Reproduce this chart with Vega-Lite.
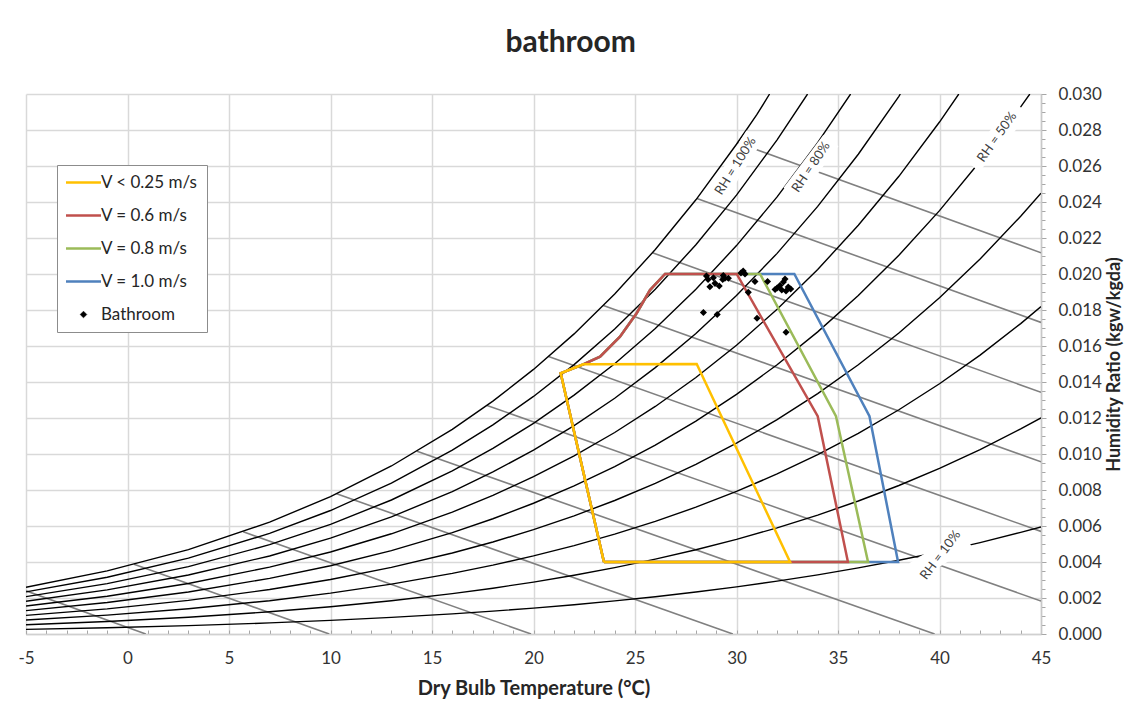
{
  "$schema": "https://vega.github.io/schema/vega-lite/v6.json",
  "width": 1015,
  "height": 540,
  "autosize": {"type": "none"},
  "padding": {"left": 26, "top": 94, "right": 92, "bottom": 70},
  "background": "white",
  "config": {"font": "Lato", "view": {"stroke": null}},
  "title": {"text": "bathroom", "fontSize": 30, "fontWeight": "bold", "color": "#262626", "anchor": "middle", "frame": "bounds", "baseline": "alphabetic", "offset": 3},
  "datasets": {
    "rh": [
      {"rh": 100, "T": -5, "W": 0.002598}, {"rh": 100, "T": -1, "W": 0.003505}, {"rh": 100, "T": 3, "W": 0.004689}, {"rh": 100, "T": 7, "W": 0.006213}, {"rh": 100, "T": 10, "W": 0.007632}, {"rh": 100, "T": 13, "W": 0.009334}, {"rh": 100, "T": 16, "W": 0.011369}, {"rh": 100, "T": 18, "W": 0.012938}, {"rh": 100, "T": 20, "W": 0.014699}, {"rh": 100, "T": 22, "W": 0.016673}, {"rh": 100, "T": 24, "W": 0.018884}, {"rh": 100, "T": 26, "W": 0.021358}, {"rh": 100, "T": 28, "W": 0.024122}, {"rh": 100, "T": 30, "W": 0.02721}, {"rh": 100, "T": 31, "W": 0.028848}, {"rh": 100, "T": 31.63, "W": 0.03},
      {"rh": 90, "T": -5, "W": 0.002337}, {"rh": 90, "T": -1, "W": 0.003153}, {"rh": 90, "T": 3, "W": 0.004217}, {"rh": 90, "T": 7, "W": 0.005586}, {"rh": 90, "T": 10, "W": 0.00686}, {"rh": 90, "T": 13, "W": 0.008388}, {"rh": 90, "T": 16, "W": 0.010213}, {"rh": 90, "T": 18, "W": 0.01162}, {"rh": 90, "T": 20, "W": 0.013198}, {"rh": 90, "T": 22, "W": 0.014966}, {"rh": 90, "T": 24, "W": 0.016944}, {"rh": 90, "T": 26, "W": 0.019156}, {"rh": 90, "T": 28, "W": 0.021626}, {"rh": 90, "T": 30, "W": 0.024382}, {"rh": 90, "T": 32, "W": 0.027454}, {"rh": 90, "T": 33.5, "W": 0.03},
      {"rh": 80, "T": -5, "W": 0.002077}, {"rh": 80, "T": -1, "W": 0.002801}, {"rh": 80, "T": 3, "W": 0.003745}, {"rh": 80, "T": 7, "W": 0.004961}, {"rh": 80, "T": 10, "W": 0.006091}, {"rh": 80, "T": 13, "W": 0.007445}, {"rh": 80, "T": 16, "W": 0.009062}, {"rh": 80, "T": 18, "W": 0.010308}, {"rh": 80, "T": 20, "W": 0.011704}, {"rh": 80, "T": 22, "W": 0.013268}, {"rh": 80, "T": 24, "W": 0.015016}, {"rh": 80, "T": 26, "W": 0.01697}, {"rh": 80, "T": 28, "W": 0.019149}, {"rh": 80, "T": 30, "W": 0.021579}, {"rh": 80, "T": 32, "W": 0.024284}, {"rh": 80, "T": 34, "W": 0.027297}, {"rh": 80, "T": 35.62, "W": 0.03},
      {"rh": 70, "T": -5, "W": 0.001817}, {"rh": 70, "T": -1, "W": 0.002449}, {"rh": 70, "T": 3, "W": 0.003275}, {"rh": 70, "T": 7, "W": 0.004336}, {"rh": 70, "T": 10, "W": 0.005323}, {"rh": 70, "T": 13, "W": 0.006505}, {"rh": 70, "T": 16, "W": 0.007915}, {"rh": 70, "T": 18, "W": 0.009001}, {"rh": 70, "T": 20, "W": 0.010217}, {"rh": 70, "T": 22, "W": 0.011578}, {"rh": 70, "T": 24, "W": 0.013099}, {"rh": 70, "T": 26, "W": 0.014798}, {"rh": 70, "T": 28, "W": 0.016691}, {"rh": 70, "T": 30, "W": 0.0188}, {"rh": 70, "T": 32, "W": 0.021146}, {"rh": 70, "T": 34, "W": 0.023754}, {"rh": 70, "T": 36, "W": 0.026652}, {"rh": 70, "T": 38, "W": 0.029869}, {"rh": 70, "T": 38.07, "W": 0.03},
      {"rh": 60, "T": -5, "W": 0.001556}, {"rh": 60, "T": -1, "W": 0.002098}, {"rh": 60, "T": 3, "W": 0.002805}, {"rh": 60, "T": 7, "W": 0.003713}, {"rh": 60, "T": 10, "W": 0.004557}, {"rh": 60, "T": 13, "W": 0.005567}, {"rh": 60, "T": 16, "W": 0.006772}, {"rh": 60, "T": 18, "W": 0.007699}, {"rh": 60, "T": 20, "W": 0.008737}, {"rh": 60, "T": 22, "W": 0.009898}, {"rh": 60, "T": 24, "W": 0.011194}, {"rh": 60, "T": 26, "W": 0.012641}, {"rh": 60, "T": 28, "W": 0.014252}, {"rh": 60, "T": 30, "W": 0.016045}, {"rh": 60, "T": 32, "W": 0.018037}, {"rh": 60, "T": 34, "W": 0.02025}, {"rh": 60, "T": 36, "W": 0.022706}, {"rh": 60, "T": 38, "W": 0.025427}, {"rh": 60, "T": 40, "W": 0.028442}, {"rh": 60, "T": 40.95, "W": 0.03},
      {"rh": 50, "T": -5, "W": 0.001296}, {"rh": 50, "T": -1, "W": 0.001748}, {"rh": 50, "T": 3, "W": 0.002336}, {"rh": 50, "T": 7, "W": 0.003091}, {"rh": 50, "T": 10, "W": 0.003793}, {"rh": 50, "T": 13, "W": 0.004632}, {"rh": 50, "T": 16, "W": 0.005633}, {"rh": 50, "T": 18, "W": 0.006402}, {"rh": 50, "T": 20, "W": 0.007264}, {"rh": 50, "T": 22, "W": 0.008226}, {"rh": 50, "T": 24, "W": 0.009301}, {"rh": 50, "T": 26, "W": 0.010498}, {"rh": 50, "T": 28, "W": 0.011831}, {"rh": 50, "T": 30, "W": 0.013314}, {"rh": 50, "T": 32, "W": 0.014959}, {"rh": 50, "T": 34, "W": 0.016784}, {"rh": 50, "T": 36, "W": 0.018807}, {"rh": 50, "T": 38, "W": 0.021046}, {"rh": 50, "T": 40, "W": 0.023522}, {"rh": 50, "T": 42, "W": 0.02626}, {"rh": 50, "T": 44, "W": 0.029284}, {"rh": 50, "T": 44.45, "W": 0.03},
      {"rh": 40, "T": -5, "W": 0.001037}, {"rh": 40, "T": -1, "W": 0.001397}, {"rh": 40, "T": 3, "W": 0.001867}, {"rh": 40, "T": 7, "W": 0.00247}, {"rh": 40, "T": 10, "W": 0.003031}, {"rh": 40, "T": 13, "W": 0.0037}, {"rh": 40, "T": 16, "W": 0.004498}, {"rh": 40, "T": 18, "W": 0.005111}, {"rh": 40, "T": 20, "W": 0.005797}, {"rh": 40, "T": 22, "W": 0.006564}, {"rh": 40, "T": 24, "W": 0.007418}, {"rh": 40, "T": 26, "W": 0.008371}, {"rh": 40, "T": 28, "W": 0.009429}, {"rh": 40, "T": 30, "W": 0.010605}, {"rh": 40, "T": 32, "W": 0.01191}, {"rh": 40, "T": 34, "W": 0.013355}, {"rh": 40, "T": 36, "W": 0.014955}, {"rh": 40, "T": 38, "W": 0.016724}, {"rh": 40, "T": 40, "W": 0.018677}, {"rh": 40, "T": 42, "W": 0.020832}, {"rh": 40, "T": 44, "W": 0.023209}, {"rh": 40, "T": 45, "W": 0.024486},
      {"rh": 30, "T": -5, "W": 0.000777}, {"rh": 30, "T": -1, "W": 0.001047}, {"rh": 30, "T": 3, "W": 0.001399}, {"rh": 30, "T": 7, "W": 0.001851}, {"rh": 30, "T": 10, "W": 0.00227}, {"rh": 30, "T": 13, "W": 0.002771}, {"rh": 30, "T": 16, "W": 0.003368}, {"rh": 30, "T": 18, "W": 0.003826}, {"rh": 30, "T": 20, "W": 0.004338}, {"rh": 30, "T": 22, "W": 0.00491}, {"rh": 30, "T": 24, "W": 0.005547}, {"rh": 30, "T": 26, "W": 0.006257}, {"rh": 30, "T": 28, "W": 0.007045}, {"rh": 30, "T": 30, "W": 0.00792}, {"rh": 30, "T": 32, "W": 0.00889}, {"rh": 30, "T": 34, "W": 0.009963}, {"rh": 30, "T": 36, "W": 0.011149}, {"rh": 30, "T": 38, "W": 0.012459}, {"rh": 30, "T": 40, "W": 0.013903}, {"rh": 30, "T": 42, "W": 0.015494}, {"rh": 30, "T": 44, "W": 0.017245}, {"rh": 30, "T": 45, "W": 0.018186},
      {"rh": 20, "T": -5, "W": 0.000518}, {"rh": 20, "T": -1, "W": 0.000698}, {"rh": 20, "T": 3, "W": 0.000932}, {"rh": 20, "T": 7, "W": 0.001233}, {"rh": 20, "T": 10, "W": 0.001512}, {"rh": 20, "T": 13, "W": 0.001845}, {"rh": 20, "T": 16, "W": 0.002241}, {"rh": 20, "T": 18, "W": 0.002545}, {"rh": 20, "T": 20, "W": 0.002885}, {"rh": 20, "T": 22, "W": 0.003265}, {"rh": 20, "T": 24, "W": 0.003687}, {"rh": 20, "T": 26, "W": 0.004157}, {"rh": 20, "T": 28, "W": 0.004679}, {"rh": 20, "T": 30, "W": 0.005258}, {"rh": 20, "T": 32, "W": 0.005898}, {"rh": 20, "T": 34, "W": 0.006607}, {"rh": 20, "T": 36, "W": 0.007389}, {"rh": 20, "T": 38, "W": 0.008251}, {"rh": 20, "T": 40, "W": 0.0092}, {"rh": 20, "T": 42, "W": 0.010244}, {"rh": 20, "T": 44, "W": 0.011392}, {"rh": 20, "T": 45, "W": 0.012007},
      {"rh": 10, "T": -5, "W": 0.000259}, {"rh": 10, "T": -1, "W": 0.000349}, {"rh": 10, "T": 3, "W": 0.000466}, {"rh": 10, "T": 7, "W": 0.000616}, {"rh": 10, "T": 10, "W": 0.000755}, {"rh": 10, "T": 13, "W": 0.000921}, {"rh": 10, "T": 16, "W": 0.001119}, {"rh": 10, "T": 18, "W": 0.00127}, {"rh": 10, "T": 20, "W": 0.001439}, {"rh": 10, "T": 22, "W": 0.001628}, {"rh": 10, "T": 24, "W": 0.001838}, {"rh": 10, "T": 26, "W": 0.002072}, {"rh": 10, "T": 28, "W": 0.002331}, {"rh": 10, "T": 30, "W": 0.002618}, {"rh": 10, "T": 32, "W": 0.002935}, {"rh": 10, "T": 34, "W": 0.003286}, {"rh": 10, "T": 36, "W": 0.003673}, {"rh": 10, "T": 38, "W": 0.004098}, {"rh": 10, "T": 40, "W": 0.004566}, {"rh": 10, "T": 42, "W": 0.00508}, {"rh": 10, "T": 44, "W": 0.005644}, {"rh": 10, "T": 45, "W": 0.005946}
    ],
    "enthalpy": [
      {"h": 1, "T": -5, "W": 0.0024}, {"h": 1, "T": 0.9, "W": 0},
      {"h": 10, "T": 0.32, "W": 0.00387}, {"h": 10, "T": 9.94, "W": 0},
      {"h": 20, "T": 5.7, "W": 0.00568}, {"h": 20, "T": 19.88, "W": 0},
      {"h": 30, "T": 10.3, "W": 0.00779}, {"h": 30, "T": 29.82, "W": 0},
      {"h": 40, "T": 14.26, "W": 0.01015}, {"h": 40, "T": 39.76, "W": 0},
      {"h": 50, "T": 17.71, "W": 0.0127}, {"h": 50, "T": 45, "W": 0.00183},
      {"h": 60, "T": 20.74, "W": 0.01542}, {"h": 60, "T": 45, "W": 0.0057},
      {"h": 70, "T": 23.44, "W": 0.01825}, {"h": 70, "T": 45, "W": 0.00957},
      {"h": 80, "T": 25.86, "W": 0.02118}, {"h": 80, "T": 45, "W": 0.01343},
      {"h": 90, "T": 28.05, "W": 0.0242}, {"h": 90, "T": 45, "W": 0.01731},
      {"h": 100, "T": 30.05, "W": 0.02729}, {"h": 100, "T": 45, "W": 0.02118}
    ],
    "labels": [
      {"label": "RH = 100%", "T": 29.95, "W": 0.0260, "T1": 29.015, "W1": 0.0243, "T2": 30.887, "W2": 0.0277},
      {"label": "RH = 80%", "T": 33.67, "W": 0.02594, "T1": 32.69, "W1": 0.02448, "T2": 34.65, "W2": 0.02741},
      {"label": "RH = 50%", "T": 42.83, "W": 0.02761, "T1": 41.596, "W1": 0.02603, "T2": 44.069, "W2": 0.02919},
      {"label": "RH = 10%", "T": 40.05, "W": 0.00439, "T1": 38.754, "W1": 0.003478, "T2": 41.345, "W2": 0.0053}
    ],
    "zones": [
      {"series": "V = 1.0 m/s", "i": 0, "T": 23.47, "W": 0.004}, {"series": "V = 1.0 m/s", "i": 1, "T": 37.96, "W": 0.004}, {"series": "V = 1.0 m/s", "i": 2, "T": 36.55, "W": 0.0121}, {"series": "V = 1.0 m/s", "i": 3, "T": 32.85, "W": 0.02}, {"series": "V = 1.0 m/s", "i": 4, "T": 26.48, "W": 0.02}, {"series": "V = 1.0 m/s", "i": 5, "T": 25.74, "W": 0.01911}, {"series": "V = 1.0 m/s", "i": 6, "T": 25.08, "W": 0.01782}, {"series": "V = 1.0 m/s", "i": 7, "T": 24.26, "W": 0.01652}, {"series": "V = 1.0 m/s", "i": 8, "T": 23.28, "W": 0.01541}, {"series": "V = 1.0 m/s", "i": 9, "T": 22.45, "W": 0.01498}, {"series": "V = 1.0 m/s", "i": 10, "T": 21.34, "W": 0.01448}, {"series": "V = 1.0 m/s", "i": 11, "T": 23.47, "W": 0.004},
      {"series": "V = 0.8 m/s", "i": 0, "T": 23.47, "W": 0.004}, {"series": "V = 0.8 m/s", "i": 1, "T": 36.48, "W": 0.004}, {"series": "V = 0.8 m/s", "i": 2, "T": 34.9, "W": 0.0121}, {"series": "V = 0.8 m/s", "i": 3, "T": 31.16, "W": 0.02}, {"series": "V = 0.8 m/s", "i": 4, "T": 26.48, "W": 0.02}, {"series": "V = 0.8 m/s", "i": 5, "T": 25.74, "W": 0.01911}, {"series": "V = 0.8 m/s", "i": 6, "T": 25.08, "W": 0.01782}, {"series": "V = 0.8 m/s", "i": 7, "T": 24.26, "W": 0.01652}, {"series": "V = 0.8 m/s", "i": 8, "T": 23.28, "W": 0.01541}, {"series": "V = 0.8 m/s", "i": 9, "T": 22.45, "W": 0.01498}, {"series": "V = 0.8 m/s", "i": 10, "T": 21.34, "W": 0.01448}, {"series": "V = 0.8 m/s", "i": 11, "T": 23.47, "W": 0.004},
      {"series": "V = 0.6 m/s", "i": 0, "T": 23.47, "W": 0.004}, {"series": "V = 0.6 m/s", "i": 1, "T": 35.49, "W": 0.004}, {"series": "V = 0.6 m/s", "i": 2, "T": 34.0, "W": 0.0121}, {"series": "V = 0.6 m/s", "i": 3, "T": 30.01, "W": 0.02}, {"series": "V = 0.6 m/s", "i": 4, "T": 26.48, "W": 0.02}, {"series": "V = 0.6 m/s", "i": 5, "T": 25.74, "W": 0.01911}, {"series": "V = 0.6 m/s", "i": 6, "T": 25.08, "W": 0.01782}, {"series": "V = 0.6 m/s", "i": 7, "T": 24.26, "W": 0.01652}, {"series": "V = 0.6 m/s", "i": 8, "T": 23.28, "W": 0.01541}, {"series": "V = 0.6 m/s", "i": 9, "T": 22.45, "W": 0.01498}, {"series": "V = 0.6 m/s", "i": 10, "T": 21.34, "W": 0.01448}, {"series": "V = 0.6 m/s", "i": 11, "T": 23.47, "W": 0.004},
      {"series": "V < 0.25 m/s", "i": 0, "T": 23.47, "W": 0.004}, {"series": "V < 0.25 m/s", "i": 1, "T": 32.64, "W": 0.004}, {"series": "V < 0.25 m/s", "i": 2, "T": 28.04, "W": 0.015}, {"series": "V < 0.25 m/s", "i": 3, "T": 22.45, "W": 0.01498}, {"series": "V < 0.25 m/s", "i": 4, "T": 21.34, "W": 0.01448}, {"series": "V < 0.25 m/s", "i": 5, "T": 23.47, "W": 0.004}
    ],
    "points": [
      {"series": "Bathroom", "T": 28.52, "W": 0.01989}, {"series": "Bathroom", "T": 28.6, "W": 0.01969}, {"series": "Bathroom", "T": 28.86, "W": 0.01979}, {"series": "Bathroom", "T": 28.69, "W": 0.01929}, {"series": "Bathroom", "T": 28.94, "W": 0.01948}, {"series": "Bathroom", "T": 29.15, "W": 0.01933}, {"series": "Bathroom", "T": 29.35, "W": 0.01991}, {"series": "Bathroom", "T": 29.43, "W": 0.01976}, {"series": "Bathroom", "T": 29.6, "W": 0.01976}, {"series": "Bathroom", "T": 29.32, "W": 0.01969},
      {"series": "Bathroom", "T": 30.33, "W": 0.02017}, {"series": "Bathroom", "T": 30.42, "W": 0.02}, {"series": "Bathroom", "T": 30.22, "W": 0.02006}, {"series": "Bathroom", "T": 30.91, "W": 0.01958}, {"series": "Bathroom", "T": 30.58, "W": 0.01898}, {"series": "Bathroom", "T": 31.53, "W": 0.01958}, {"series": "Bathroom", "T": 31.9, "W": 0.01914}, {"series": "Bathroom", "T": 32.14, "W": 0.01936}, {"series": "Bathroom", "T": 32.31, "W": 0.01956}, {"series": "Bathroom", "T": 32.39, "W": 0.01972},
      {"series": "Bathroom", "T": 32.55, "W": 0.01928}, {"series": "Bathroom", "T": 32.44, "W": 0.01906}, {"series": "Bathroom", "T": 32.67, "W": 0.01917}, {"series": "Bathroom", "T": 32.23, "W": 0.01911}, {"series": "Bathroom", "T": 32.0, "W": 0.01922}, {"series": "Bathroom", "T": 28.37, "W": 0.01786}, {"series": "Bathroom", "T": 29.05, "W": 0.01775}, {"series": "Bathroom", "T": 31.01, "W": 0.01754}, {"series": "Bathroom", "T": 32.44, "W": 0.01676}
    ]
  },
  "resolve": {"axis": {"x": "independent", "y": "independent"}},
  "layer": [
    {
      "data": {"name": "enthalpy"},
      "mark": {"type": "line", "color": "#808080", "strokeWidth": 1.6, "clip": true},
      "encoding": {
        "x": {"field": "T", "type": "quantitative", "scale": {"domain": [-5, 45], "nice": false, "zero": false},
          "axis": {"orient": "bottom", "values": [-5,-4,-3,-2,-1,0,1,2,3,4,5,6,7,8,9,10,11,12,13,14,15,16,17,18,19,20,21,22,23,24,25,26,27,28,29,30,31,32,33,34,35,36,37,38,39,40,41,42,43,44,45], "grid": false, "labels": false, "domain": false, "ticks": true, "tickSize": -4, "tickColor": "#a6a6a6", "title": null}},
        "y": {"field": "W", "type": "quantitative", "scale": {"domain": [0, 0.03], "nice": false, "zero": true},
          "axis": {"orient": "right", "values": [0,0.0005,0.001,0.0015,0.002,0.0025,0.003,0.0035,0.004,0.0045,0.005,0.0055,0.006,0.0065,0.007,0.0075,0.008,0.0085,0.009,0.0095,0.01,0.0105,0.011,0.0115,0.012,0.0125,0.013,0.0135,0.014,0.0145,0.015,0.0155,0.016,0.0165,0.017,0.0175,0.018,0.0185,0.019,0.0195,0.02,0.0205,0.021,0.0215,0.022,0.0225,0.023,0.0235,0.024,0.0245,0.025,0.0255,0.026,0.0265,0.027,0.0275,0.028,0.0285,0.029,0.0295,0.03], "grid": false, "labels": false, "domain": false, "ticks": true, "tickSize": 4, "tickColor": "#a6a6a6", "title": null}},
        "detail": {"field": "h", "type": "nominal"}
      }
    },
    {
      "data": {"name": "rh"},
      "mark": {"type": "line", "color": "#000000", "strokeWidth": 1.4, "clip": true},
      "encoding": {
        "x": {"field": "T", "type": "quantitative", "scale": {"domain": [-5, 45], "nice": false, "zero": false},
          "axis": {"orient": "bottom", "values": [-5,0,5,10,15,20,25,30,35,40,45], "labelExpr": "datum.value + ''", "grid": true, "gridColor": "#d9d9d9", "gridWidth": 1.5, "ticks": false, "domainColor": "#d0d0d0", "domainWidth": 1.5, "labelFontSize": 17, "labelColor": "#333333", "labelPadding": 16, "labelFlush": false, "labelOverlap": false, "labelBound": false, "title": "Dry Bulb Temperature (°C)", "titleFontSize": 20, "titleFontWeight": "bold", "titleColor": "#262626", "titlePadding": 12}},
        "y": {"field": "W", "type": "quantitative", "scale": {"domain": [0, 0.03], "nice": false, "zero": true},
          "axis": {"orient": "right", "values": [0,0.002,0.004,0.006,0.008,0.01,0.012,0.014,0.016,0.018,0.02,0.022,0.024,0.026,0.028,0.03], "format": ".3f", "grid": true, "gridColor": "#d9d9d9", "gridWidth": 1.5, "ticks": true, "tickSize": 5, "tickColor": "#a6a6a6", "domainColor": "#c8c8c8", "domainWidth": 1.5, "labelFontSize": 17, "labelColor": "#333333", "labelPadding": 12, "labelOverlap": false, "labelBound": false, "title": "Humidity Ratio (kgw/kgda)", "titleFontSize": 18, "titleFontWeight": "bold", "titleColor": "#262626", "titleAngle": 270, "titleBaseline": "top", "titlePadding": 4}},
        "detail": {"field": "rh", "type": "nominal"}
      }
    },
    {
      "data": {"name": "labels"},
      "mark": {"type": "rule", "color": "white", "strokeWidth": 19, "strokeCap": "butt"},
      "encoding": {
        "x": {"field": "T1", "type": "quantitative", "scale": {"domain": [-5, 45], "nice": false, "zero": false}, "axis": null},
        "y": {"field": "W1", "type": "quantitative", "scale": {"domain": [0, 0.03], "nice": false, "zero": true}, "axis": null},
        "x2": {"field": "T2"},
        "y2": {"field": "W2"}
      }
    },
    {
      "data": {"name": "labels"},
      "mark": {"type": "text", "fontSize": 13, "color": "#404040", "align": "center", "baseline": "middle"},
      "encoding": {
        "x": {"field": "T", "type": "quantitative", "scale": {"domain": [-5, 45], "nice": false, "zero": false}, "axis": null},
        "y": {"field": "W", "type": "quantitative", "scale": {"domain": [0, 0.03], "nice": false, "zero": true}, "axis": null},
        "text": {"field": "label"},
        "angle": {"field": "label", "type": "nominal", "scale": {"domain": ["RH = 100%", "RH = 80%", "RH = 50%", "RH = 10%"], "range": [-58, -53, -49, -32]}, "legend": null}
      }
    },
    {
      "data": {"name": "zones"},
      "mark": {"type": "line", "strokeWidth": 2.5, "strokeJoin": "miter"},
      "encoding": {
        "x": {"field": "T", "type": "quantitative", "scale": {"domain": [-5, 45], "nice": false, "zero": false}, "axis": null},
        "y": {"field": "W", "type": "quantitative", "scale": {"domain": [0, 0.03], "nice": false, "zero": true}, "axis": null},
        "order": {"field": "i", "type": "quantitative"},
        "color": {"field": "series", "type": "nominal",
          "scale": {"domain": ["V < 0.25 m/s", "V = 0.6 m/s", "V = 0.8 m/s", "V = 1.0 m/s", "Bathroom"], "range": ["#FFC000", "#C0504D", "#9BBB59", "#4F81BD", "#000000"]},
          "legend": {"orient": "none", "legendX": 31, "legendY": 71, "title": null, "padding": 9, "rowPadding": 15, "symbolSize": 1225, "symbolType": "stroke", "symbolStrokeWidth": 2.5, "symbolOffset": 9, "labelOffset": 9, "labelFontSize": 17, "labelColor": "#262626", "strokeColor": "#8c8c8c", "fillColor": "white",
            "encode": {"symbols": {"update": {
              "shape": {"signal": "datum.value === 'Bathroom' ? 'diamond' : 'stroke'"},
              "size": {"signal": "datum.value === 'Bathroom' ? 45 : 1225"},
              "fill": {"signal": "datum.value === 'Bathroom' ? '#000000' : 'transparent'"},
              "stroke": {"scale": "color", "field": "value"},
              "strokeWidth": {"signal": "datum.value === 'Bathroom' ? 0.5 : 2.5"}
            }}}}
        }
      }
    },
    {
      "data": {"name": "points"},
      "mark": {"type": "point", "shape": "diamond", "filled": true, "size": 50, "opacity": 1},
      "encoding": {
        "x": {"field": "T", "type": "quantitative", "scale": {"domain": [-5, 45], "nice": false, "zero": false}, "axis": null},
        "y": {"field": "W", "type": "quantitative", "scale": {"domain": [0, 0.03], "nice": false, "zero": true}, "axis": null},
        "color": {"field": "series", "type": "nominal",
          "scale": {"domain": ["V < 0.25 m/s", "V = 0.6 m/s", "V = 0.8 m/s", "V = 1.0 m/s", "Bathroom"], "range": ["#FFC000", "#C0504D", "#9BBB59", "#4F81BD", "#000000"]}}
      }
    }
  ]
}
